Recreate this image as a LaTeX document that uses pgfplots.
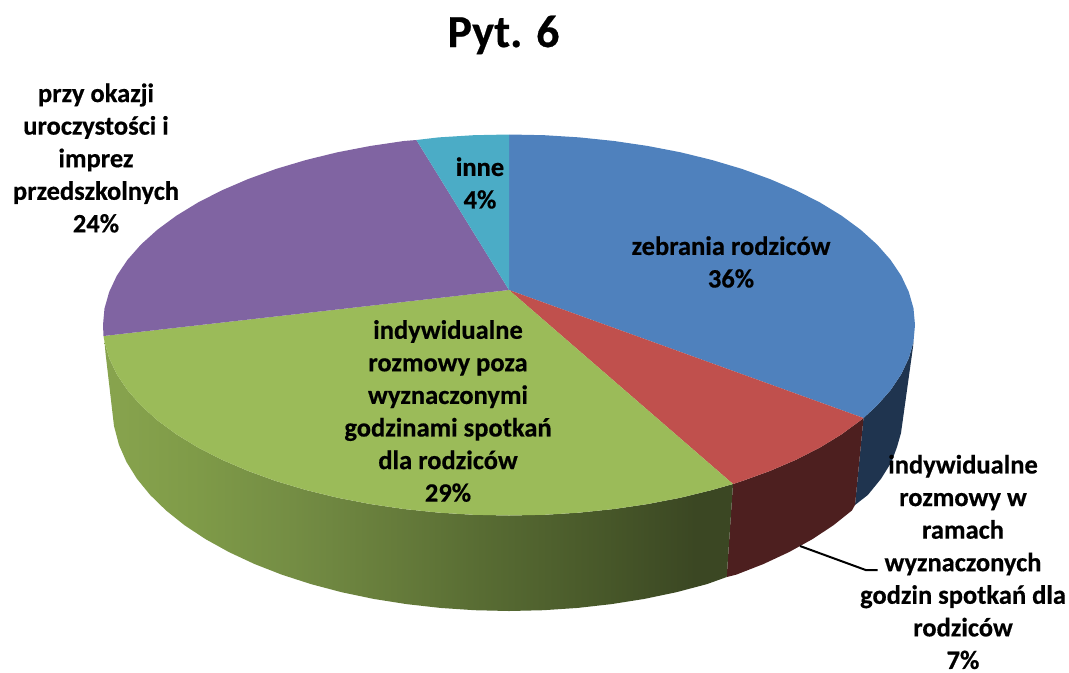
\documentclass[border=0pt]{standalone}
\usepackage{fontspec}
\setmainfont{Carlito}[BoldFeatures={FakeBold=0.5}]
\usepackage{pgfplots}
\pgfplotsset{compat=1.18}

\definecolor{cBlue}{HTML}{4F81BD}
\definecolor{cRed}{HTML}{C0504D}
\definecolor{cGreen}{HTML}{9BBB59}
\definecolor{cPurple}{HTML}{8064A2}
\definecolor{cTeal}{HTML}{4BACC6}
\definecolor{sBlue}{HTML}{1F344F}
\definecolor{sRed}{HTML}{4D1F1F}
\definecolor{g1}{HTML}{88A44E}
\definecolor{g2}{HTML}{7F9B48}
\definecolor{g3}{HTML}{748D44}
\definecolor{g4}{HTML}{667C3B}
\definecolor{g5}{HTML}{586C33}
\definecolor{g6}{HTML}{475729}
\definecolor{g7}{HTML}{3B4723}
% bbox of the path maps to 25bp..75bp
\pgfdeclarehorizontalshading{greenside}{100bp}{
  color(0bp)=(g1); color(25bp)=(g1); color(32bp)=(g2); color(40bp)=(g3);
  color(48bp)=(g4); color(55bp)=(g5); color(65bp)=(g6); color(72bp)=(g7); color(100bp)=(g7)}

\begin{document}
\begin{tikzpicture}
\begin{axis}[
    scale only axis,
    width=1069bp,
    height=672bp,
    xmin=0, xmax=1069,
    ymin=0, ymax=672,
    y dir=reverse,
    hide axis,
    clip=false,
    every axis plot/.append style={mark=none, line width=0pt},
]
% keeps the page at the full plot area
\addplot[draw=none] coordinates {(0,0)(1069,672)};
% side walls
\addplot[draw=none, fill=sBlue] coordinates {
  (913.5,341.6)(908.8,358.1)(901.2,374.3)(890.5,390.2)(877,405.5)(863.5,418)
  (855,505)(867.9,494.9)(881.1,478.7)(891.5,462)(897,447)(901,433)(913,347)
} -- cycle;
\addplot[draw=none, fill=sRed] coordinates {
  (863.5,418)(860.6,420.3)(841.6,434.3)(820,447.5)(796.1,459.7)(770,470.9)(741.9,481.1)(733,484)
  (726.7,577)(736.1,574.7)(763.5,564)(789,552.1)(812.3,539.2)(833.4,525.3)(851.9,510.5)(855,505)
} -- cycle;
\addplot[draw=none, shading=greenside] coordinates {
  (733,484)(712,490)(680.6,497.7)(647.9,504)(614.1,509)(579.5,512.6)(544.4,514.8)(509,515.5)
  (473.6,514.8)(438.5,512.6)(403.9,509)(370.1,504)(337.4,497.7)(306,490)(276.1,481.1)(248,470.9)
  (221.9,459.7)(198,447.5)(176.4,434.3)(157.4,420.3)(141,405.5)(127.5,390.2)(116.8,374.3)
  (109.2,358.1)(104.5,341.6)(105.5,353)
  (114,426)(119,444.9)(126.5,462)(136.9,478.7)(150.1,494.9)(166.1,510.5)(184.6,525.3)(205.7,539.2)
  (229,552.1)(254.5,564)(281.9,574.7)(311,584.1)(341.6,592.2)(373.6,598.9)(406.5,604.1)(440.2,607.9)
  (474.5,610.2)(509,611)(543.5,610.2)(577.8,607.9)(611.5,604.1)(644.4,598.9)(676.4,592.2)(707,584.1)
  (726.7,577)
} -- cycle;
% top slices
\addplot[draw=none, fill=cBlue] coordinates {
  (509,290)(509,134.5)(544.4,135.2)(579.5,137.4)(614.1,141)(647.9,146)(680.6,152.3)(712,160)
  (741.9,168.9)(770,179.1)(796.1,190.3)(820,202.5)(841.6,215.7)(860.6,229.7)(877,244.5)(890.5,259.8)
  (901.2,275.7)(908.8,291.9)(913.5,308.4)(915,325)(913.5,341.6)(908.8,358.1)(901.2,374.3)(890.5,390.2)
  (877,405.5)(863.5,418)
} -- cycle;
\addplot[draw=none, fill=cRed] coordinates {
  (509,290)(863.5,418)(860.6,420.3)(841.6,434.3)(820,447.5)(796.1,459.7)(770,470.9)(741.9,481.1)(733,484)
} -- cycle;
\addplot[draw=none, fill=cGreen] coordinates {
  (509,290)(733,484)(712,490)(680.6,497.7)(647.9,504)(614.1,509)(579.5,512.6)(544.4,514.8)(509,515.5)
  (473.6,514.8)(438.5,512.6)(403.9,509)(370.1,504)(337.4,497.7)(306,490)(276.1,481.1)(248,470.9)
  (221.9,459.7)(198,447.5)(176.4,434.3)(157.4,420.3)(141,405.5)(127.5,390.2)(116.8,374.3)
  (109.2,358.1)(104.5,341.6)(103.5,336)
} -- cycle;
\addplot[draw=none, fill=cPurple] coordinates {
  (509,290)(103.5,336)(103,325)(104.5,308.4)(109.2,291.9)(116.8,275.7)(127.5,259.8)(141,244.5)
  (157.4,229.7)(176.4,215.7)(198,202.5)(221.9,190.3)(248,179.1)(276.1,168.9)(306,160)(337.4,152.3)
  (370.1,146)(403.9,141)(416.4,140)
} -- cycle;
\addplot[draw=none, fill=cTeal] coordinates {
  (509,290)(416.4,140)(438.5,137.4)(473.6,135.2)(509,134.5)
} -- cycle;
% leader line
\addplot[black, line width=2bp] coordinates {(800,546)(865.7,570)(877.7,570)};

\tikzset{lab/.style={align=center, inner sep=0pt, font=\fontsize{26.6}{32.7}\selectfont\bfseries}}
\node[inner sep=0pt, font=\fontsize{46}{50}\selectfont\bfseries] at (axis cs:503.5,35) {Pyt. 6};
\node[lab] at (axis cs:731,262) {zebrania rodziców\\36\%};
\node[lab] at (axis cs:480,183) {inne\\4\%};
\node[lab] at (axis cs:448,411) {indywidualne\\rozmowy poza\\wyznaczonymi\\godzinami spotkań\\dla rodziców\\29\%};
\node[lab] at (axis cs:96,158) {przy okazji\\uroczystości i\\imprez\\przedszkolnych\\24\%};
\node[lab, overlay] at (axis cs:963,562) {indywidualne\\rozmowy w\\ramach\\wyznaczonych\\godzin spotkań dla\\rodziców\\7\%};
\end{axis}
\end{tikzpicture}
\end{document}
